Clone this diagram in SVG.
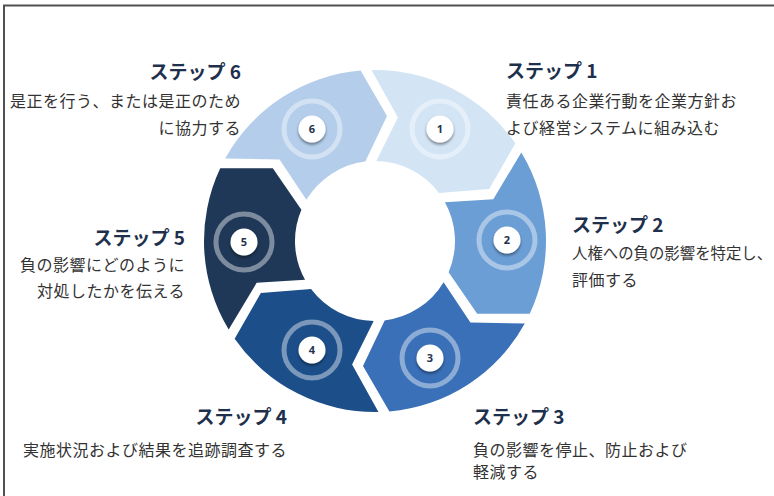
<svg xmlns="http://www.w3.org/2000/svg" width="774" height="496" viewBox="0 0 774 496">
<defs>
<style>
.title{font-family:"Noto Sans CJK JP","Noto Sans",sans-serif;font-weight:700;font-size:19px;fill:#1e304c}
.body{font-family:"Noto Sans CJK JP","Noto Sans",sans-serif;font-size:16px;letter-spacing:0.5px;fill:#333}
.num{font-family:"Noto Sans","Noto Sans CJK JP",sans-serif;font-weight:700;font-size:11px;fill:#1f3350;text-anchor:middle}
.ring{fill:none;stroke:#fff;stroke-opacity:0.42;stroke-width:5}
.dot{fill:#fff;filter:url(#sh)}
</style>
<filter id="sh" x="-50%" y="-50%" width="200%" height="200%">
<feDropShadow dx="0" dy="2" stdDeviation="1.5" flood-color="#000" flood-opacity="0.45"/>
</filter>
<path id="seg" d="M170.91,5.49 A171,171 0 0 1 90.21,145.27 L46.02,116.76 L44.67,66.37 A80,80 0 0 0 79.81,5.50 L122.03,29.32 Z"/>
</defs>
<rect width="774" height="496" fill="#fff"/>
<path d="M4,496 V5.5 H774" fill="none" stroke="#505050" stroke-width="2"/>
<g id="step1"><use href="#seg" transform="translate(375,241) rotate(-93)" fill="#d3e4f5"/><circle class="ring" cx="440" cy="129" r="28"/><circle class="dot" cx="440" cy="129" r="13.5"/><text class="num" x="440" y="133">1</text></g>
<g id="step2"><use href="#seg" transform="translate(375,241) rotate(-33)" fill="#6c9ed6"/><circle class="ring" cx="507" cy="240" r="28"/><circle class="dot" cx="507" cy="240" r="13.5"/><text class="num" x="507" y="244">2</text></g>
<g id="step3"><use href="#seg" transform="translate(375,241) rotate(27)" fill="#3a70b8"/><circle class="ring" cx="430" cy="358" r="28"/><circle class="dot" cx="430" cy="358" r="13.5"/><text class="num" x="430" y="362">3</text></g>
<g id="step4"><use href="#seg" transform="translate(375,241) rotate(87)" fill="#1c4f8a"/><circle class="ring" cx="312" cy="350" r="28"/><circle class="dot" cx="312" cy="350" r="13.5"/><text class="num" x="312" y="354">4</text></g>
<g id="step5"><use href="#seg" transform="translate(375,241) rotate(147)" fill="#1f3858"/><circle class="ring" cx="244" cy="242" r="28"/><circle class="dot" cx="244" cy="242" r="13.5"/><text class="num" x="244" y="246">5</text></g>
<g id="step6"><use href="#seg" transform="translate(375,241) rotate(207)" fill="#b3cdeb"/><circle class="ring" cx="312" cy="129" r="28"/><circle class="dot" cx="312" cy="129" r="13.5"/><text class="num" x="312" y="133">6</text></g>
<g id="label1"><text class="title" x="506" y="78">ステップ 1</text><text class="body" x="506" y="107">責任ある企業行動を企業方針お</text><text class="body" x="506" y="134">よび経営システムに組み込む</text></g>
<g id="label2"><text class="title" x="572" y="232">ステップ 2</text><text class="body" x="572" y="259" style="letter-spacing:0;font-size:15.4px">人権への負の影響を特定し、</text><text class="body" x="572" y="286">評価する</text></g>
<g id="label3"><text class="title" x="473" y="424">ステップ 3</text><text class="body" x="473" y="456">負の影響を停止、防止および</text><text class="body" x="473" y="478">軽減する</text></g>
<g id="label4" text-anchor="end"><text class="title" x="287" y="424">ステップ 4</text><text class="body" x="287" y="456">実施状況および結果を追跡調査する</text></g>
<g id="label5" text-anchor="end"><text class="title" x="185" y="245">ステップ 5</text><text class="body" x="185" y="271">負の影響にどのように</text><text class="body" x="185" y="297">対処したかを伝える</text></g>
<g id="label6" text-anchor="end"><text class="title" x="241" y="79">ステップ 6</text><text class="body" x="241" y="107">是正を行う、または是正のため</text><text class="body" x="241" y="134">に協力する</text></g>
</svg>
